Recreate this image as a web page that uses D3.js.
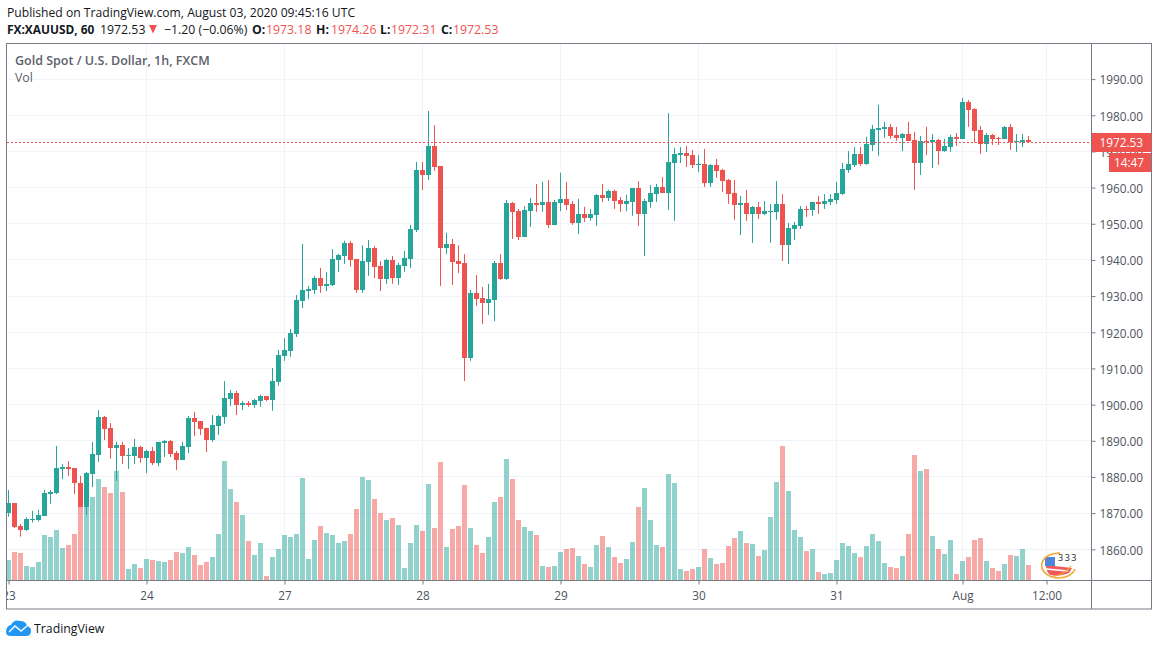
<!DOCTYPE html>
<html>
<head>
<meta charset="utf-8">
<style>
  html, body { margin: 0; padding: 0; background: #fff; }
  svg { display: block; }
  text { font-family: "Open Sans", sans-serif; }
</style>
<script src="https://cdn.jsdelivr.net/npm/d3@7"></script>
</head>
<body>
<div id="chart"></div>
<script>
// OHLC values, one entry per hourly candle
const opens = [
  1869.9,1872.8,1866.5,1865.4,1868.1,1868.1,1869.2,1875.4,1875.6,1882.3,
  1882.8,1882.5,1878.3,1871.8,1880.8,1886.1,1896.6,1893.6,1888.0,1888.9,
  1885.9,1885.8,1888.3,1885.3,1887.2,1883.9,1889.4,1890.0,1886.6,1884.7,
  1888.3,1896.3,1895.5,1893.6,1890.2,1894.1,1896.6,1901.6,1903.2,1899.9,
  1900.5,1899.9,1901.0,1902.4,1901.3,1906.3,1913.5,1914.8,1919.5,1928.7,
  1931.4,1931.7,1935.0,1932.8,1933.1,1940.0,1941.1,1944.7,1940.3,1931.7,
  1939.4,1943.3,1938.3,1934.7,1940.0,1935.0,1938.3,1940.3,1948.3,1964.9,
  1963.5,1971.5,1966.0,1943.3,1944.4,1939.7,1939.2,1912.9,1930.9,1929.5,
  1928.1,1928.9,1939.2,1934.7,1955.8,1953.5,1946.4,1953.5,1955.8,1955.2,
  1956.0,1949.7,1955.8,1956.9,1955.5,1950.2,1952.7,1951.6,1952.4,1958.0,
  1957.1,1959.1,1956.6,1955.5,1956.0,1959.9,1952.7,1956.0,1958.2,1960.2,
  1958.5,1966.8,1969.0,1969.6,1969.0,1966.3,1966.5,1961.3,1966.3,1964.9,
  1962.1,1958.5,1955.2,1955.8,1952.7,1954.7,1952.7,1953.3,1953.3,1955.5,
  1944.1,1948.6,1949.4,1954.1,1953.8,1956.0,1955.5,1956.0,1956.6,1958.2,
  1964.9,1966.3,1969.3,1966.5,1971.8,1975.9,1976.2,1976.8,1974.6,1973.7,
  1974.8,1973.2,1966.8,1972.9,1972.6,1973.2,1970.1,1971.2,1974.0,1973.5,
  1983.7,1981.7,1975.9,1972.1,1974.6,1973.7,1973.5,1976.8,1972.6,1972.6,
  1973.18
];
const highs = [
  1876.4,1872.8,1867.0,1868.9,1870.6,1870.9,1876.4,1876.4,1888.6,1883.6,
  1884.4,1882.5,1880.3,1881.4,1889.7,1898.5,1896.9,1894.9,1889.7,1889.7,
  1888.0,1890.5,1888.6,1887.5,1888.3,1889.7,1890.2,1890.2,1887.2,1889.7,
  1896.9,1898.0,1895.5,1893.6,1897.1,1897.1,1906.5,1904.1,1903.8,1901.0,
  1901.0,1901.6,1902.7,1902.4,1910.1,1915.1,1918.4,1920.9,1930.3,1944.4,
  1932.8,1935.6,1937.8,1936.7,1943.0,1941.7,1945.3,1945.3,1940.3,1944.1,
  1945.5,1943.9,1939.7,1940.3,1941.1,1939.2,1942.5,1949.7,1967.1,1967.1,
  1981.2,1977.3,1966.0,1947.5,1945.8,1944.1,1941.6,1931.7,1935.8,1932.5,
  1933.4,1939.7,1941.6,1956.6,1956.0,1954.1,1954.9,1957.1,1961.0,1961.6,
  1962.1,1956.6,1964.1,1961.6,1956.3,1956.9,1954.7,1954.1,1958.2,1961.0,
  1959.4,1959.4,1957.4,1958.0,1959.9,1961.8,1956.9,1960.7,1961.0,1962.9,
  1980.6,1971.0,1971.2,1971.5,1970.4,1969.0,1970.7,1966.5,1967.9,1965.2,
  1962.4,1962.1,1957.7,1959.4,1954.9,1956.0,1956.3,1955.5,1961.8,1958.2,
  1950.2,1950.5,1954.9,1954.9,1956.0,1957.7,1958.2,1958.2,1961.6,1966.8,
  1970.1,1971.2,1971.2,1974.0,1977.3,1982.9,1978.2,1977.6,1976.8,1975.1,
  1978.2,1975.4,1974.3,1976.8,1974.8,1973.5,1973.5,1974.6,1975.1,1984.8,
  1984.2,1982.0,1977.0,1975.1,1974.8,1974.0,1977.0,1977.6,1974.8,1974.8,
  1974.26
];
const lows = [
  1869.0,1865.9,1863.5,1865.1,1867.4,1867.7,1869.2,1872.6,1875.3,1879.4,
  1880.3,1875.3,1871.8,1869.5,1877.2,1884.2,1890.2,1885.0,1878.9,1883.6,
  1882.2,1883.6,1883.9,1881.1,1883.3,1883.0,1885.5,1885.5,1881.9,1884.7,
  1886.6,1891.3,1891.6,1886.9,1889.7,1891.6,1894.7,1899.6,1897.1,1898.5,
  1899.4,1899.1,1899.4,1901.0,1898.3,1905.2,1912.1,1913.2,1918.7,1926.7,
  1929.2,1930.6,1930.9,1931.4,1932.8,1936.7,1938.9,1938.1,1930.9,1930.9,
  1935.6,1935.0,1931.4,1933.4,1933.4,1933.1,1936.7,1937.8,1947.7,1959.3,
  1962.1,1964.6,1932.8,1941.6,1933.1,1936.4,1906.5,1912.1,1927.3,1922.3,
  1924.8,1923.1,1934.5,1934.5,1945.8,1945.5,1946.4,1949.1,1953.3,1953.3,
  1948.8,1949.7,1953.5,1953.8,1949.7,1947.2,1950.5,1950.8,1949.4,1956.0,
  1956.3,1954.1,1953.3,1953.5,1952.2,1949.4,1941.1,1954.4,1956.0,1958.5,
  1953.8,1950.8,1966.8,1965.7,1965.4,1964.3,1960.2,1960.2,1962.7,1958.8,
  1955.5,1951.1,1946.9,1950.8,1944.7,1951.3,1952.4,1944.7,1951.1,1939.7,
  1938.9,1945.5,1948.6,1951.9,1952.2,1952.7,1954.1,1955.2,1955.5,1958.0,
  1964.1,1965.7,1966.0,1966.3,1970.1,1968.8,1973.7,1973.5,1972.9,1970.1,
  1972.9,1959.4,1963.5,1969.0,1965.4,1966.3,1969.9,1969.9,1971.5,1973.5,
  1976.8,1972.4,1969.3,1969.9,1971.8,1971.8,1973.5,1970.4,1969.9,1971.2,
  1972.31
];
const closes = [
  1872.8,1866.3,1865.4,1868.4,1868.4,1869.5,1875.6,1875.9,1882.5,1882.8,
  1882.3,1878.2,1871.8,1881.1,1886.4,1896.6,1893.3,1888.0,1888.9,1885.8,
  1886.1,1888.3,1885.3,1887.2,1883.9,1889.7,1890.0,1886.4,1884.7,1888.6,
  1896.3,1895.2,1893.3,1890.2,1894.4,1896.9,1901.8,1903.2,1899.9,1900.5,
  1899.9,1901.3,1902.4,1901.3,1906.5,1913.7,1915.1,1919.8,1928.9,1931.7,
  1932.0,1935.0,1932.8,1933.4,1940.3,1941.4,1944.7,1940.0,1931.7,1939.7,
  1943.3,1938.1,1934.7,1940.0,1935.0,1938.6,1940.6,1948.6,1964.9,1963.5,
  1971.5,1965.7,1943.3,1944.4,1939.4,1938.9,1912.9,1930.9,1929.2,1928.1,
  1929.2,1939.2,1934.7,1955.8,1953.3,1946.4,1953.8,1955.8,1955.2,1956.0,
  1949.7,1956.0,1956.9,1955.2,1950.2,1952.7,1951.6,1952.7,1958.0,1957.1,
  1959.1,1956.3,1955.5,1956.3,1959.9,1952.7,1956.3,1958.5,1960.2,1958.5,
  1967.1,1969.3,1969.6,1968.8,1966.3,1966.5,1961.3,1966.3,1964.6,1961.8,
  1958.2,1955.2,1955.8,1952.7,1954.7,1952.7,1953.5,1953.5,1955.5,1944.1,
  1948.8,1949.7,1954.1,1953.8,1956.0,1955.5,1956.3,1956.9,1958.5,1965.2,
  1966.5,1969.3,1966.5,1972.1,1976.2,1976.5,1976.8,1974.3,1973.7,1974.8,
  1972.9,1966.8,1972.9,1972.6,1973.2,1970.1,1971.5,1974.0,1973.5,1983.7,
  1981.5,1975.7,1972.1,1974.6,1973.5,1973.5,1976.8,1972.6,1972.9,1973.2,
  1972.53
];
// Volume has no printed scale in the source, so these are relative heights
const volumes = [
  60,84,81,42,39,54,135,129,150,96,
  105,138,219,219,249,303,279,261,327,264,
  33,48,36,63,60,57,54,60,84,81,
  99,75,45,54,69,138,357,273,234,195,
  117,75,111,12,69,93,135,129,138,306,
  63,120,162,141,135,111,117,138,213,309,
  300,243,201,180,186,165,36,111,165,147,
  288,156,354,99,153,162,285,156,105,81,
  129,234,249,363,303,180,159,147,135,42,
  39,42,84,93,96,72,48,39,105,132,
  99,69,51,63,114,219,276,180,105,99,
  318,291,33,27,33,39,93,66,48,51,
  102,126,147,111,108,72,90,189,294,402,
  267,150,129,87,93,24,18,21,60,111,
  102,81,69,102,138,117,51,39,36,72,
  138,375,327,333,132,93,78,120,18,57,
  69,120,126,57,36,27,48,75,72,93,
  45
];
const priceTicks = [1990,1980,1970,1960,1950,1940,1930,1920,1910,1900,1890,1880,1870,1860];
const timeTickIndex = [0,23,46,69,92,115,138,159,173];
const timeTickLabels = ["23","24","27","28","29","30","31","Aug","12:00"];
const lastPrice = 1972.53;
const countdown = "14:47";

const width = 1158, height = 646;
const plot = { left: 7, right: 1091.5, top: 43.5, bottom: 580.5, outerRight: 1151.5, outerBottom: 609 };
const upColor = "#26a69a", downColor = "#ef5350", gridColor = "#f0f3fa";
const borderColor = "#787b86", textColor = "#50535e";

const svg = d3.select("#chart").append("svg")
  .attr("width", width)
  .attr("height", height);

// Scales
const x = d3.scaleLinear().domain([0, 170]).range([8.5, 1028.5]);
const y = d3.scaleLinear().domain([1860, 1990]).range([549.3, 79.1]);
const vol = d3.scaleLinear().domain([0, 420]).range([580, 440]);
const crisp = v => Math.floor(v) + 0.5;

const clip = svg.append("defs").append("clipPath").attr("id", "plotClip");
clip.append("rect")
  .attr("x", plot.left)
  .attr("y", plot.top)
  .attr("width", plot.right - plot.left)
  .attr("height", plot.outerBottom - plot.top);

// Grid
const grid = svg.append("g").attr("stroke", gridColor).attr("stroke-width", 1);
grid.selectAll("line.h").data(priceTicks).enter().append("line")
  .attr("x1", plot.left).attr("x2", plot.right)
  .attr("y1", d => crisp(y(d))).attr("y2", d => crisp(y(d)));
grid.selectAll("line.v").data(timeTickIndex.slice(1)).enter().append("line")
  .attr("y1", plot.top).attr("y2", plot.bottom)
  .attr("x1", d => crisp(x(d))).attr("x2", d => crisp(x(d)));

const candles = d3.range(opens.length).map(i => ({
  i, o: opens[i], h: highs[i], l: lows[i], c: closes[i], v: volumes[i],
  color: closes[i] < opens[i] ? downColor : upColor
}));

const chart = svg.append("g").attr("clip-path", "url(#plotClip)");

// Volume bars
chart.append("g").selectAll("rect").data(candles).enter().append("rect")
  .attr("x", d => x(d.i) - 2.5)
  .attr("width", 5)
  .attr("y", d => vol(d.v))
  .attr("height", d => vol(0) - vol(d.v))
  .attr("fill", d => d.color)
  .attr("fill-opacity", 0.5)
  .attr("shape-rendering", "crispEdges");

// Candle wicks and bodies
chart.append("g").selectAll("line").data(candles).enter().append("line")
  .attr("x1", d => x(d.i)).attr("x2", d => x(d.i))
  .attr("y1", d => y(d.h)).attr("y2", d => y(d.l))
  .attr("stroke", d => d.color)
  .attr("stroke-width", 1);

chart.append("g").selectAll("rect").data(candles).enter().append("rect")
  .attr("x", d => x(d.i) - 2.5)
  .attr("width", 5)
  .attr("y", d => y(Math.max(d.o, d.c)))
  .attr("height", d => Math.max(1, Math.abs(y(d.o) - y(d.c))))
  .attr("fill", d => d.color)
  .attr("shape-rendering", "crispEdges");

// Axes
const priceAxis = svg.append("g")
  .attr("transform", `translate(${plot.right},0)`)
  .call(d3.axisRight(y).tickValues(priceTicks).tickFormat(d3.format(".2f")).tickSize(4).tickPadding(4));
const timeAxis = svg.append("g")
  .attr("transform", `translate(0,${plot.bottom})`)
  .attr("clip-path", "url(#timeClip)")
  .call(d3.axisBottom(x).tickValues(timeTickIndex)
    .tickFormat((d, i) => timeTickLabels[i]).tickSize(4).tickPadding(7));
svg.select("defs").append("clipPath").attr("id", "timeClip").append("rect")
  .attr("x", plot.left).attr("y", -2)
  .attr("width", plot.right - plot.left).attr("height", 30);
[priceAxis, timeAxis].forEach(a => {
  a.select(".domain").remove();
  a.selectAll("line").attr("stroke", borderColor);
  a.selectAll("text").attr("fill", textColor).attr("font-size", 11.8)
    .attr("font-family", '"Open Sans", sans-serif');
});
priceAxis.selectAll("text").attr("dy", "0.4em");

// Frame
const frame = svg.append("g").attr("stroke", borderColor).attr("fill", "none");
frame.append("rect")
  .attr("x", 6.5).attr("y", plot.top)
  .attr("width", plot.outerRight - 6.5).attr("height", plot.outerBottom - plot.top);
frame.append("line").attr("x1", plot.right).attr("x2", plot.right).attr("y1", plot.top).attr("y2", plot.outerBottom);
frame.append("line").attr("x1", 6.5).attr("x2", plot.outerRight).attr("y1", plot.bottom).attr("y2", plot.bottom);

// Last price line and labels
svg.append("line")
  .attr("x1", plot.left).attr("x2", plot.right + 4)
  .attr("y1", crisp(y(lastPrice))).attr("y2", crisp(y(lastPrice)))
  .attr("stroke", downColor).attr("stroke-dasharray", "2 2");
svg.append("rect").attr("x", plot.right + 0.5).attr("y", 133)
  .attr("width", 59.5).attr("height", 19).attr("fill", downColor);
svg.append("text").attr("x", plot.right + 8).attr("y", 147)
  .attr("font-size", 11.8).attr("fill", "#fff").text(d3.format(".2f")(lastPrice));
svg.append("rect").attr("x", 1109).attr("y", 153)
  .attr("width", 42).attr("height", 19).attr("fill", downColor);
svg.append("text").attr("x", 1114).attr("y", 167)
  .attr("font-size", 11.8).attr("fill", "#fff").text(countdown);

// Header
const header = svg.append("g").attr("font-size", 12.3).attr("fill", "#131722");
header.append("text").attr("x", 7).attr("y", 17).attr("font-size", 12.15)
  .text("Published on TradingView.com, August 03, 2020 09:45:16 UTC");
header.append("text").attr("x", 7).attr("y", 34).attr("font-weight", 700).attr("font-size", 11.9).text("FX:XAUUSD, 60");
header.append("text").attr("x", 100).attr("y", 34).text("1972.53");
header.append("path").attr("d", "M149,25 L157,25 L153,33.5 Z").attr("fill", downColor);
header.append("text").attr("x", 164).attr("y", 34).text("−1.20 (−0.06%)");
const ohlcLabels = [
  { k: "O:", v: "1973.18", kx: 252, vx: 266 },
  { k: "H:", v: "1974.26", kx: 316, vx: 331 },
  { k: "L:", v: "1972.31", kx: 380, vx: 391 },
  { k: "C:", v: "1972.53", kx: 441, vx: 453 }
];
ohlcLabels.forEach(d => {
  header.append("text").attr("x", d.kx).attr("y", 34).attr("font-weight", 700).text(d.k);
  header.append("text").attr("x", d.vx).attr("y", 34).attr("fill", downColor).text(d.v);
});

// Legend inside the pane
svg.append("text").attr("x", 15).attr("y", 65).attr("font-size", 12.5).attr("font-weight", 600)
  .attr("fill", "#5d606b").text("Gold Spot / U.S. Dollar, 1h, FXCM");
svg.append("text").attr("x", 15).attr("y", 82).attr("font-size", 12.3)
  .attr("fill", "#5d606b").text("Vol");

// Small badge at the lower right of the pane
const badge = svg.append("g").attr("transform", "translate(1058,566)");
badge.append("path").attr("d", "M-12,-1 L14,2 L11,7 Q2,11 -8,9 Q-12,5 -12,-1 Z").attr("fill", "#ef5a5a");
badge.append("path").attr("d", "M-12,3 L10,5").attr("stroke", "#fff").attr("stroke-width", 1.5);
badge.append("rect").attr("x", -13).attr("y", -9).attr("width", 10).attr("height", 9).attr("fill", "#4d86d8");
badge.append("path").attr("d", "M2,-13 A17,12.5 0 1 0 17,3")
  .attr("fill", "none").attr("stroke", "#f5a832").attr("stroke-width", 1.6);
badge.append("path").attr("d", "M-8,11 Q6,10 13,0")
  .attr("fill", "none").attr("stroke", "#f5a832").attr("stroke-width", 1.2);
badge.append("text").attr("x", 0).attr("y", -5).attr("font-size", 9).attr("letter-spacing", 1.5)
  .attr("fill", "#222").text("333");

// Footer logo
const logo = svg.append("g");
logo.append("path")
  .attr("d", "M6,632 Q6,626 11,625 Q14,619 20,621 Q26,621 27,626 Q31,627 31,631 Q31,636 26,636 L11,636 Q6,636 6,632 Z")
  .attr("fill", "#2196f3");
logo.append("path")
  .attr("d", "M9,632 L15,626 L21,631 L27,626")
  .attr("fill", "none").attr("stroke", "#fff").attr("stroke-width", 1.4);
svg.append("text").attr("x", 34).attr("y", 633).attr("font-size", 12.3).attr("fill", "#131722").text("TradingView");
</script>
</body>
</html>
